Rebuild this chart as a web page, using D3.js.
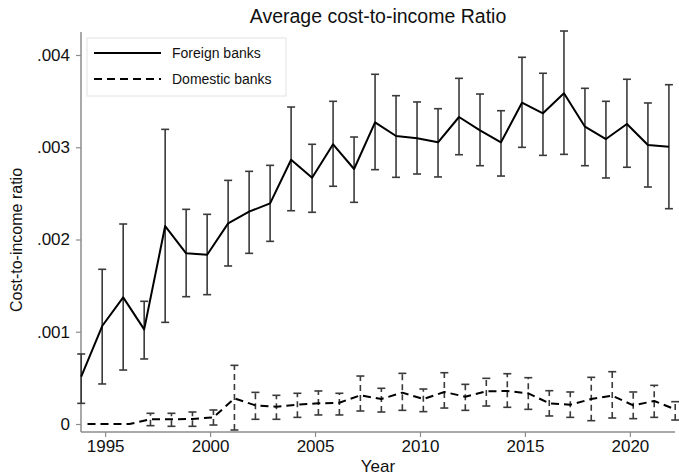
<!DOCTYPE html>
<html>
<head>
<meta charset="utf-8">
<script src="https://cdn.jsdelivr.net/npm/d3@7"></script>
<style>
  body { margin: 0; background: #fff; }
  svg { font-family: "Liberation Sans", Arial, sans-serif; }
</style>
</head>
<body>
<div id="chart"></div>
<script>
// Data
var years = [1994, 1995, 1996, 1997, 1998, 1999, 2000, 2001, 2002, 2003, 2004, 2005, 2006, 2007, 2008,
             2009, 2010, 2011, 2012, 2013, 2014, 2015, 2016, 2017, 2018, 2019, 2020, 2021, 2022];

var foreignMean = [0.000513, 0.001062, 0.001373, 0.001026, 0.002146, 0.001850, 0.001835, 0.002175, 0.002302, 0.002392,
                   0.002865, 0.002670, 0.003032, 0.002764, 0.003270, 0.003122, 0.003097, 0.003054, 0.003328, 0.003183,
                   0.003054, 0.003483, 0.003368, 0.003585, 0.003223, 0.003089, 0.003252, 0.003024, 0.003006];
var foreignLow  = [0.000224, 0.000434, 0.000585, 0.000705, 0.001102, 0.001380, 0.001402, 0.001713, 0.001850, 0.001980,
                   0.002312, 0.002295, 0.002577, 0.002403, 0.002757, 0.002674, 0.002710, 0.002678, 0.002919, 0.002800,
                   0.002688, 0.002999, 0.002912, 0.002923, 0.002800, 0.002667, 0.002783, 0.002569, 0.002334];
var foreignHigh = [0.000759, 0.001677, 0.002168, 0.001330, 0.003194, 0.002327, 0.002273, 0.002641, 0.002739, 0.002804,
                   0.003436, 0.003032, 0.003498, 0.003111, 0.003791, 0.003559, 0.003491, 0.003418, 0.003747, 0.003577,
                   0.003396, 0.003975, 0.003802, 0.004260, 0.003639, 0.003498, 0.003737, 0.003480, 0.003678];

var domesticMean = [0, 0, 0, 0.000051, 0.000051, 0.000054, 0.000072, 0.000278, 0.000202, 0.000188,
                    0.000209, 0.000224, 0.000231, 0.000311, 0.000271, 0.000340, 0.000271, 0.000347, 0.000296, 0.000354,
                    0.000358, 0.000333, 0.000224, 0.000209, 0.000271, 0.000307, 0.000202, 0.000249, 0.000159];
var domesticLow  = [null, null, null, -0.000018, -0.000025, -0.000025, -0.000011, -0.000065, 0.000051, 0.000051,
                    0.000072, 0.000098, 0.000098, 0.000141, 0.000130, 0.000148, 0.000134, 0.000173, 0.000148, 0.000195,
                    0.000181, 0.000159, 0.000087, 0.000072, 0.000036, 0.000065, 0.000058, 0.000072, 0.000043];
var domesticHigh = [null, null, null, 0.000116, 0.000116, 0.000130, 0.000152, 0.000636, 0.000343, 0.000311,
                    0.000333, 0.000358, 0.000333, 0.000520, 0.000387, 0.000549, 0.000379, 0.000556, 0.000430, 0.000495,
                    0.000545, 0.000502, 0.000361, 0.000347, 0.000506, 0.000567, 0.000347, 0.000419, 0.000242];

var xTicks = [1995, 2000, 2005, 2010, 2015, 2020];
var yTicks = [0, 0.001, 0.002, 0.003, 0.004];
var seriesNames = ["Foreign banks", "Domestic banks"];

var width = 679, height = 476;
var plot = { left: 81, right: 675, top: 32, bottom: 432 };

var svg = d3.select("#chart").append("svg")
    .attr("width", width)
    .attr("height", height);

// the two groups are dodged a little around each year
var xScale = d3.scaleLinear()
    .domain([1993.85, 2022.15])
    .range([plot.left, plot.right]);

var yScale = d3.scaleLinear()
    .domain([-0.0000867, 0.0042493])
    .range([plot.bottom, plot.top]);

var series = [
    { name: seriesNames[0], offset: -0.14, dash: null,
      mean: foreignMean, low: foreignLow, high: foreignHigh },
    { name: seriesNames[1], offset: 0.16, dash: "8,5",
      mean: domesticMean, low: domesticLow, high: domesticHigh }
];

// axes
var yAxis = svg.append("g")
    .attr("transform", "translate(" + plot.left + ",0)")
    .call(d3.axisLeft(yScale).tickValues(yTicks).tickSize(5).tickPadding(6)
        .tickFormat(function (d) { return d === 0 ? "0" : d3.format(".3f")(d).replace(/^0/, ""); }));

var xAxis = svg.append("g")
    .attr("transform", "translate(0," + plot.bottom + ")")
    .call(d3.axisBottom(xScale).tickValues(xTicks).tickSize(5).tickPadding(3).tickFormat(d3.format("d")));

[yAxis, xAxis].forEach(function (ax) {
    ax.select(".domain").attr("stroke", "#8c8c8c").attr("stroke-width", 1.5);
    ax.selectAll(".tick line").attr("stroke", "#8c8c8c").attr("stroke-width", 1.2);
    ax.selectAll(".tick text").attr("fill", "#111").style("font-size", "17px")
        .style("font-family", "'Liberation Sans', Arial, sans-serif");
});
// remove the outer end ticks on the domain paths
yAxis.select(".domain").attr("d", "M0," + plot.top + "V" + plot.bottom);
xAxis.select(".domain").attr("d", "M" + plot.left + ",0H" + plot.right);

// error bars and lines
var capHalf = 4;
series.forEach(function (s) {
    var g = svg.append("g");
    var pts = years.map(function (yr, i) {
        return { x: yr + s.offset, m: s.mean[i], lo: s.low[i], hi: s.high[i] };
    });
    var withCi = pts.filter(function (p) { return p.lo !== null; });

    g.selectAll(".bar").data(withCi).enter().append("line")
        .attr("x1", function (p) { return xScale(p.x); })
        .attr("x2", function (p) { return xScale(p.x); })
        .attr("y1", function (p) { return yScale(p.lo); })
        .attr("y2", function (p) { return yScale(p.hi); })
        .attr("stroke", "#3a3a3a").attr("stroke-width", 1.6)
        .attr("stroke-dasharray", s.dash ? "6,4" : null);

    ["lo", "hi"].forEach(function (k) {
        g.selectAll(".cap-" + k).data(withCi).enter().append("line")
            .attr("x1", function (p) { return xScale(p.x) - capHalf; })
            .attr("x2", function (p) { return xScale(p.x) + capHalf; })
            .attr("y1", function (p) { return yScale(p[k]); })
            .attr("y2", function (p) { return yScale(p[k]); })
            .attr("stroke", "#3a3a3a").attr("stroke-width", 1.6);
    });

    var line = d3.line()
        .x(function (p) { return xScale(p.x); })
        .y(function (p) { return yScale(p.m); });

    g.append("path").datum(pts)
        .attr("d", line)
        .attr("fill", "none")
        .attr("stroke", "#000")
        .attr("stroke-width", 2)
        .attr("stroke-linejoin", "round")
        .attr("stroke-dasharray", s.dash);
});

// legend
var legend = svg.append("g").attr("transform", "translate(87,38)");
legend.append("rect")
    .attr("width", 199).attr("height", 58)
    .attr("fill", "#fff").attr("stroke", "#e2e2e2").attr("stroke-width", 1);

series.forEach(function (s, i) {
    var yy = 15 + i * 26;
    legend.append("line")
        .attr("x1", 7).attr("x2", 74).attr("y1", yy).attr("y2", yy)
        .attr("stroke", "#000").attr("stroke-width", 2)
        .attr("stroke-dasharray", s.dash);
    legend.append("text")
        .attr("x", 85).attr("y", yy + 5)
        .style("font-size", "14px").attr("fill", "#111")
        .text(s.name);
});

// titles
svg.append("text")
    .attr("x", (plot.left + plot.right) / 2).attr("y", 23)
    .attr("text-anchor", "middle")
    .style("font-size", "19.5px").attr("fill", "#111")
    .text("Average cost-to-income Ratio");

svg.append("text")
    .attr("x", (plot.left + plot.right) / 2).attr("y", 472)
    .attr("text-anchor", "middle")
    .style("font-size", "17px").attr("fill", "#111")
    .text("Year");

svg.append("text")
    .attr("transform", "translate(22,240) rotate(-90)")
    .attr("text-anchor", "middle")
    .style("font-size", "16px").attr("fill", "#111")
    .text("Cost-to-income ratio");
</script>
</body>
</html>
